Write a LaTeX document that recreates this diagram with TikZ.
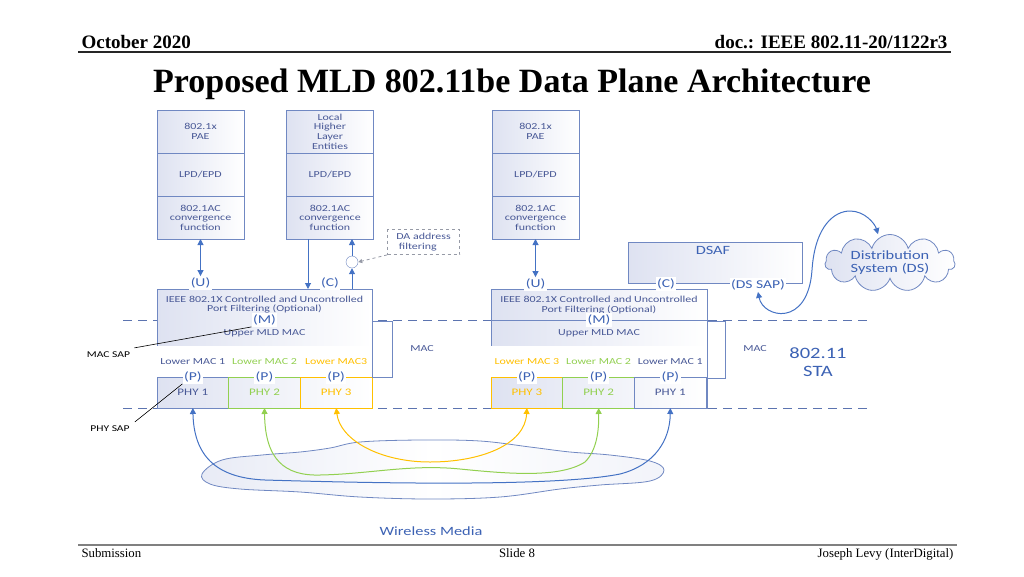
\documentclass[tikz,border=0pt]{standalone}
\usepackage{fontspec}
\setmainfont{Liberation Serif}
\newfontfamily\diagfont{Carlito}[FakeStretch=1.3]
\usetikzlibrary{positioning,shapes.symbols,arrows.meta}

\definecolor{txtblue}{RGB}{72,88,150}
\definecolor{sapblue}{RGB}{60,98,180}
\definecolor{linkblue}{RGB}{68,114,196}
\definecolor{boxedge}{RGB}{112,136,194}
\definecolor{boxshade}{RGB}{222,226,241}
\definecolor{phygreen}{RGB}{146,208,80}
\definecolor{phyorange}{RGB}{255,192,0}
\definecolor{dashblue}{RGB}{92,116,176}
\definecolor{dagray}{RGB}{150,154,166}

\begin{document}
\begin{tikzpicture}[
    x=1pt, y=-1pt,
    >={Triangle[width=6pt,length=6pt]},
    txt/.style={font=\diagfont\fontsize{9.2}{9.6}\selectfont, text=txtblue, align=center, inner sep=0pt},
    cell/.style={txt, draw=boxedge, line width=0.9pt, left color=boxshade, right color=white,
        minimum width=87pt, minimum height=43pt, outer sep=0pt},
    mld/.style={draw=boxedge, line width=0.9pt, left color=boxshade, right color=white,
        minimum height=119pt, outer sep=0pt},
    lowmac/.style={txt, text=#1, fill=white, minimum width=71.7pt, minimum height=31pt, outer sep=0pt},
    phybox/.style={draw=#1, text=#1, line width=0.9pt, minimum width=71.7pt, minimum height=31pt,
        inner sep=0pt, outer sep=0pt, font=\diagfont\fontsize{10}{10}\selectfont},
    sap/.style={font=\diagfont\fontsize{12}{12}\selectfont, text=sapblue, fill=white, inner sep=1.5pt},
    biglbl/.style={font=\diagfont\fontsize{12.6}{13}\selectfont, text=sapblue, align=center, inner sep=0pt},
    link/.style={draw=linkblue, line width=1pt},
    sapline/.style={draw=dashblue, line width=0.9pt, dash pattern=on 9pt off 6pt}
]
    \useasboundingbox (0,0) rectangle (1024,576);

    % Kopf und Fuss
    \node[anchor=base west, font=\bfseries\fontsize{19}{19}\selectfont] (date) at (78,48) {October 2020};
    \node[anchor=base east, font=\bfseries\fontsize{19}{19}\selectfont] (docid) at (951,48) {doc.: IEEE 802.11-20/1122r3};
    \draw[line width=1.3pt, black!85] (78,52) -- (951,52);
    \node[anchor=base, font=\bfseries\fontsize{34}{34}\selectfont] (title) at (512,92)
        {Proposed MLD 802.11be Data Plane Architecture};
    \draw[line width=2pt, black!50] (78,545) -- (957,545);
    \node[anchor=base west, font=\fontsize{12.8}{13}\selectfont] (sub) at (78,557) {Submission};
    \node[anchor=base, font=\fontsize{12.8}{13}\selectfont] (slide) at (517,557) {Slide 8};
    \node[anchor=base east, font=\fontsize{12.8}{13}\selectfont] (author) at (957,557) {Joseph Levy (InterDigital)};

    % SAP-Linien
    \draw[sapline] (123,320) -- (867,320);
    \draw[sapline] (123,408) -- (867,408);

    % Funkmedium
    \draw[boxedge, line width=0.8pt, left color=boxshade!70, right color=boxshade!40, middle color=white]
        plot[smooth cycle, tension=0.6] coordinates {(202,474) (222,460) (262,455) (300,452) (330,448)
        (360,442) (420,440) (480,441) (530,447) (570,452) (610,455) (650,461) (664,470) (650,481)
        (600,485) (560,489) (500,497) (430,499) (360,497) (300,492) (240,489) (210,484)};
    \node[biglbl] (wmlbl) at (431,531) {Wireless Media};

    % Stapel oben
    \node[cell] (pae1) at (200.5,131.5) {802.1x\\PAE};
    \node[cell, below=0pt of pae1] (lpd1) {LPD/EPD};
    \node[cell, below=0pt of lpd1] (conv1) {802.1AC\\convergence\\function};

    \node[cell] (hle2) at (330,131.5) {Local\\Higher\\Layer\\Entities};
    \node[cell, below=0pt of hle2] (lpd2) {LPD/EPD};
    \node[cell, below=0pt of lpd2] (conv2) {802.1AC\\convergence\\function};

    \node[cell] (pae3) at (535.5,131.5) {802.1x\\PAE};
    \node[cell, below=0pt of pae3] (lpd3) {LPD/EPD};
    \node[cell, below=0pt of lpd3] (conv3) {802.1AC\\convergence\\function};

    \node[txt, draw=dagray, dashed, line width=0.8pt, align=left, minimum width=72pt, minimum height=25pt] (daf)
        at (423.5,242) {DA address\\\ filtering};
    \node[circle, draw=boxedge, fill=white, minimum size=12pt, inner sep=0pt] (filt) at (352,262) {};

    % DSAF und DS
    \node[draw=boxedge, line width=0.9pt, left color=boxshade, right color=white,
        minimum width=174pt, minimum height=41.5pt] (dsaf) at (715,262.75) {};
    \node[biglbl] (dsaflbl) at (713,250) {DSAF};
    \node[cloud, cloud puffs=11, cloud ignores aspect, draw=boxedge, line width=0.8pt,
        left color=boxshade, right color=white, minimum width=130pt, minimum height=57pt,
        biglbl] (ds) at (890,263) {Distribution\\System (DS)};

    % MLD links
    \node[mld, minimum width=215pt] (mldL) at (264.5,348.5) {};
    \node[phybox=boxedge, text=txtblue] (phyL1) at (192.8,392.5) {PHY 1};
    \node[phybox=phygreen, right=0pt of phyL1] (phyL2) {PHY 2};
    \node[phybox=phyorange, right=0pt of phyL2] (phyL3) {PHY 3};
    \node[lowmac=txtblue, above=0pt of phyL1] (lowL1) {Lower MAC 1};
    \node[lowmac=phygreen, above=0pt of phyL2] (lowL2) {Lower MAC 2};
    \node[lowmac=phyorange, above=0pt of phyL3] (lowL3) {Lower MAC3};
    \node[txt] (pfL) at (264.5,304.5) {IEEE 802.1X Controlled and Uncontrolled\\Port Filtering (Optional)};
    \node[txt] (umL) at (264.5,333) {Upper MLD MAC};

    % MLD rechts
    \node[mld, minimum width=216pt] (mldR) at (599,349) {};
    \draw[boxedge, line width=0.9pt] (mldR.west |- mldL.center) ++(0,-28.5) -- ++(216,0);
    \node[phybox=phyorange] (phyR3) at (526.9,392.5) {PHY 3};
    \node[phybox=phygreen, right=0pt of phyR3] (phyR2) {PHY 2};
    \node[phybox=boxedge, text=txtblue, right=0pt of phyR2] (phyR1) {PHY 1};
    \node[lowmac=phyorange, above=0pt of phyR3] (lowR3) {Lower MAC 3};
    \node[lowmac=phygreen, above=0pt of phyR2] (lowR2) {Lower MAC 2};
    \node[lowmac=txtblue, above=0pt of phyR1] (lowR1) {Lower MAC 1};
    \node[txt] (pfR) at (599,305) {IEEE 802.1X Controlled and Uncontrolled\\Port Filtering (Optional)};
    \node[txt] (umR) at (599,333) {Upper MLD MAC};

    % MAC-Klammern
    \draw[boxedge, line width=0.9pt] (372,321) -- (392,321) -- (392,377) -- (372,377);
    \draw[boxedge, line width=0.9pt] (707,321) -- (725,321) -- (725,378) -- (707,378);
    \node[txt] (macL) at (422,349) {MAC};
    \node[txt] (macR) at (755,349) {MAC};
    \node[font=\diagfont\fontsize{15.8}{18}\selectfont, text=sapblue, align=center, inner sep=0pt] (sta)
        at (818,362) {802.11\\STA};

    % SAP-Bezeichner
    \node[sap] (uL) at (200.5,283) {(U)};
    \node[sap] (cL) at (330,283) {(C)};
    \node[sap] (uR) at (535.5,284) {(U)};
    \node[sap] (cR) at (666,284) {(C)};
    \node[sap] (dssap) at (758,285) {(DS SAP)};
    \node[sap] (mL) at (264.5,320) {(M)};
    \node[sap] (mR) at (599,320) {(M)};
    \foreach \p in {L1,L2,L3,R1,R2,R3}
        \node[sap] (p\p) at (phy\p.north) {(P)};

    \node[txt, text=black, font=\diagfont\fontsize{8.9}{9}\selectfont] (macsap) at (108.5,355) {MAC SAP};
    \node[txt, text=black, font=\diagfont\fontsize{8.9}{9}\selectfont] (physap) at (110,429) {PHY SAP};
    \draw[black, line width=0.6pt] ([xshift=4pt,yshift=4pt]macsap.north east) -- (mL.south west);
    \draw[black, line width=0.6pt] ([xshift=5pt,yshift=4pt]physap.north east) -- (pL1.south west);

    % Verbindungen oben
    \coordinate (c2a) at ([xshift=-22pt]conv2.south);
    \coordinate (c2b) at ([xshift=22pt]conv2.south);
    \draw[link, <->] (conv1.south) -- (uL.north);
    \draw[link, ->] (c2a) -- (c2a |- mldL.north);
    \draw[link, ->] (c2b |- mldL.north) -- (filt.south);
    \draw[link, ->] (filt.north) -- (c2b);
    \draw[dagray, dashed, line width=0.8pt, -{Triangle[width=4pt,length=4pt]}] (daf.south west) -- (filt.east);
    \draw[link, <->] (conv3.south) -- (uR.north);
    \draw[link, <->] (dssap.south) .. controls (763,318) and (808,328) .. (812,270)
        .. controls (815,225) and (835,211) .. (850,211)
        .. controls (865,211) and (875,224) .. ([xshift=-12pt]ds.north);

    % Funkstrecken
    \draw[link, <->] (phyL1.south) .. controls (194,455) and (215,478) .. (265,480)
        .. controls (400,484) and (560,486) .. (620,474)
        .. controls (655,465) and (670,440) .. (phyR1.south);
    \draw[link, draw=phygreen, <->] (phyL2.south) .. controls (265,460) and (285,476) .. (320,475)
        .. controls (370,474) and (410,464) .. (460,469)
        .. controls (510,474) and (560,478) .. (585,462)
        .. controls (597,450) and (599,430) .. (phyR2.south);
    \draw[link, draw=phyorange, <->] (phyL3.south) .. controls (340,440) and (380,462) .. (430,462)
        .. controls (480,462) and (525,445) .. (phyR3.south);
\end{tikzpicture}
\end{document}
